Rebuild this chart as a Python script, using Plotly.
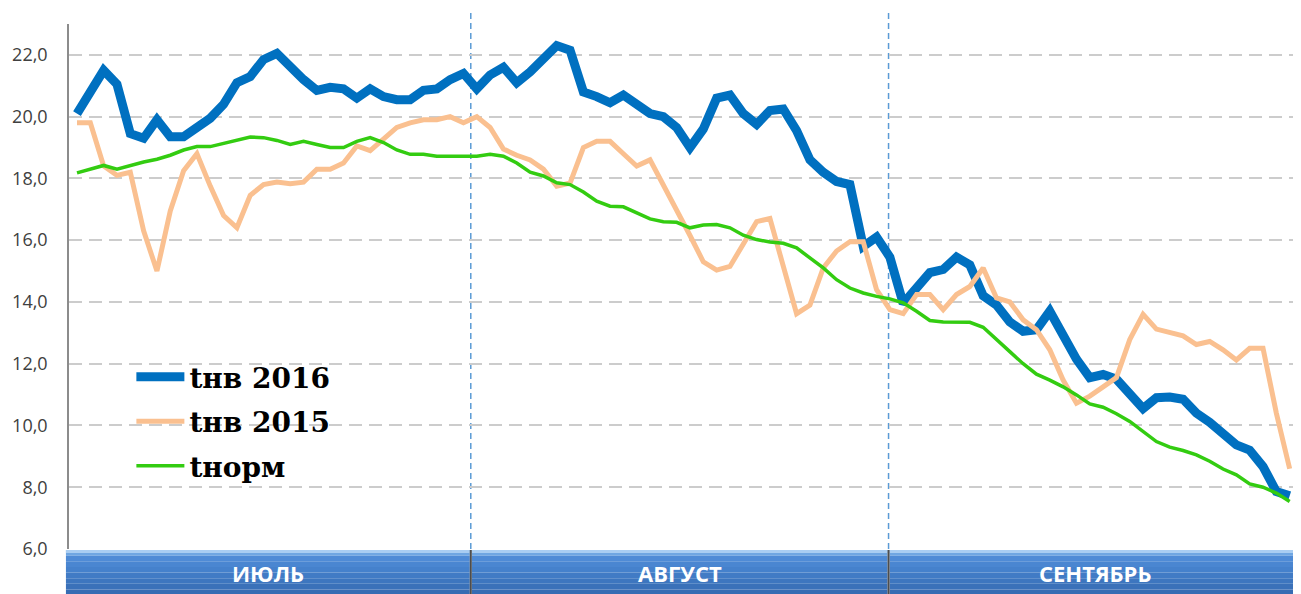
import plotly.graph_objects as go

# ---------------- data ----------------
months = ["ИЮЛЬ", "АВГУСТ", "СЕНТЯБРЬ"]
days_in_month = [31, 31, 30]

t_2016 = [20.1, 20.8, 21.5, 21.05, 19.45, 19.3, 19.9, 19.35, 19.35, 19.65, 19.95, 20.4, 21.1, 21.3, 21.85,
          22.05, 21.6, 21.2, 20.85, 20.95, 20.9, 20.6, 20.9, 20.65, 20.55, 20.55, 20.85, 20.9, 21.2, 21.4,
          20.9, 21.35, 21.6, 21.1, 21.45, 21.85, 22.3, 22.15, 20.8, 20.65, 20.45, 20.7, 20.4, 20.1, 20.0,
          19.65, 19.0, 19.6, 20.6, 20.7, 20.1, 19.75, 20.2, 20.25, 19.55, 18.6, 18.2, 17.9, 17.8, 15.8,
          16.1, 15.45, 13.95, 14.5, 14.95, 15.05, 15.45, 15.2, 14.2, 13.9, 13.35, 13.05, 13.1, 13.7, 12.95,
          12.15, 11.55, 11.65, 11.5, 11.05, 10.55, 10.9, 10.92, 10.85, 10.4, 10.1, 9.75, 9.37, 9.2, 8.67,
          7.86, 7.72]
t_2015 = [19.8, 19.8, 18.4, 18.1, 18.2, 16.3, 15.0, 16.95, 18.25, 18.8, 17.75, 16.8, 16.4, 17.45, 17.8,
          17.88, 17.83, 17.88, 18.3, 18.3, 18.5, 19.05, 18.9, 19.25, 19.65, 19.8, 19.9, 19.9, 20.0, 19.8,
          20.0, 19.65, 18.95, 18.75, 18.6, 18.3, 17.75, 17.85, 19.0, 19.2, 19.2, 18.8, 18.4, 18.6, 17.8,
          17.0, 16.15, 15.3, 15.03, 15.15, 15.85, 16.6, 16.7, 15.15, 13.62, 13.9, 15.1, 15.65, 15.95, 15.95,
          14.4, 13.75, 13.62, 14.24, 14.24, 13.75, 14.24, 14.5, 15.1, 14.13, 14.0, 13.42, 13.1, 12.45, 11.47,
          10.72, 10.95, 11.25, 11.55, 12.78, 13.6, 13.12, 13.02, 12.9, 12.62, 12.72, 12.45, 12.12, 12.5,
          12.5, 10.4, 8.6]
t_norm = [18.18, 18.3, 18.42, 18.3, 18.42, 18.53, 18.62, 18.75, 18.92, 19.03, 19.03, 19.14, 19.24, 19.34, 19.32,
          19.23, 19.1, 19.2, 19.1, 19.0, 19.0, 19.2, 19.32, 19.16, 18.92, 18.78, 18.78, 18.72, 18.72, 18.72,
          18.72, 18.78, 18.72, 18.5, 18.2, 18.08, 17.86, 17.8, 17.56, 17.26, 17.1, 17.08, 16.9, 16.69, 16.6,
          16.58, 16.4, 16.49, 16.51, 16.4, 16.16, 16.02, 15.94, 15.9, 15.75, 15.43, 15.1, 14.72, 14.45, 14.29,
          14.18, 14.1, 13.97, 13.7, 13.4, 13.35, 13.35, 13.34, 13.18, 12.77, 12.39, 12.0, 11.66, 11.47, 11.25,
          10.99, 10.7, 10.59, 10.38, 10.13, 9.81, 9.48, 9.3, 9.19, 9.05, 8.84, 8.59, 8.4, 8.11, 8.0,
          7.81, 7.54]

series_names = ["tнв 2016", "tнв 2015", "tнорм"]
y_ticks = [6, 8, 10, 12, 14, 16, 18, 20, 22]

# ---------------- layout helpers ----------------
days = list(range(len(t_2016)))
X_RANGE = [-0.6, 91.55]
Y_RANGE = [6, 23]
PLOT_W = 1232.0
PLOT_H = 525.0

def xpaper(v):
    return (v - X_RANGE[0]) / (X_RANGE[1] - X_RANGE[0])

fig = go.Figure()
styles = [("#0070C0", 9), ("#FAC090", 5), ("#33CC11", 3.5)]
for name, ys, (col, w) in zip(series_names, [t_2016, t_2015, t_norm], styles):
    fig.add_trace(go.Scatter(x=days, y=ys, mode="lines", name=name, legendgroup=name,
                             line=dict(color=col, width=w)))

shapes = []
annotations = []
band_top = -1.0 / PLOT_H
band_bot = -46.0 / PLOT_H

# month band edges in day units
edges = [-0.83, 29.55, 60.9, 91.85]

grad = ["#6FA6E2", "#4F8BD6", "#4A86D1", "#4581CC", "#417BC5", "#3D76BF", "#3A71B9", "#366CB3"]
for k in range(3):
    x0 = xpaper(edges[k]) + (1.0 / PLOT_W if k > 0 else 0)
    x1 = xpaper(edges[k + 1]) - (1.0 / PLOT_W if k < 2 else 0)
    n = len(grad)
    for j, c in enumerate(grad):
        y0 = band_top + (band_bot - band_top) * j / n
        y1 = band_top + (band_bot - band_top) * (j + 1) / n
        shapes.append(dict(type="rect", xref="paper", yref="paper", x0=x0, x1=x1, y0=y0, y1=y1,
                           fillcolor=c, line=dict(width=0), layer="above"))
    shapes.append(dict(type="rect", xref="paper", yref="paper", x0=x0, x1=x1,
                       y0=band_top, y1=band_top - 3.0 / PLOT_H,
                       fillcolor="#A9CDF2", line=dict(width=0), layer="above"))
    annotations.append(dict(x=(x0 + x1) / 2, y=(band_top + band_bot) / 2, xref="paper", yref="paper",
                            text=months[k], showarrow=False, xanchor="center", yanchor="middle",
                            font=dict(family="Open Sans", size=22, color="white", weight="bold")))

# month separators (dark) and vertical dashed lines
for b in edges[1:3]:
    xb = xpaper(b)
    shapes.append(dict(type="line", xref="paper", yref="paper", x0=xb, x1=xb,
                       y0=band_bot, y1=band_top, line=dict(color="#4D4D4D", width=2), layer="above"))
    shapes.append(dict(type="line", xref="paper", yref="paper", x0=xb, x1=xb,
                       y0=0, y1=1 + 11.0 / PLOT_H, line=dict(color="#5B9BD5", width=1.5, dash="6px,4px"),
                       layer="below"))

# page body has an 8px margin: the figure is sized/offset to compensate
fig.update_layout(
    width=1293, height=586, autosize=False,
    margin=dict(l=57, r=4, t=16, b=45),
    plot_bgcolor="white", paper_bgcolor="white",
    separators=", ",
    showlegend=True,
    legend=dict(x=0.0508, y=0.375, xanchor="left", yanchor="top", bgcolor="rgba(0,0,0,0)",
                font=dict(family="DejaVu Serif", size=28, color="black", weight="bold"),
                itemwidth=48, tracegroupgap=5),
    xaxis=dict(range=X_RANGE, showgrid=False, zeroline=False, showticklabels=False, ticks="",
               showline=False, fixedrange=True),
    yaxis=dict(range=Y_RANGE, tickvals=y_ticks, tickformat=".1f", showgrid=True,
               gridcolor="#CCCCCC", gridwidth=1.5, griddash="13px,7px", zeroline=False,
               showline=True, linecolor="#8C8C8C", linewidth=1.5, ticks="",
               ticklabelstandoff=16,
               tickfont=dict(family="Open Sans", size=18, color="#404040")),
    shapes=shapes, annotations=annotations,
)

fig.write_html("out.html")
